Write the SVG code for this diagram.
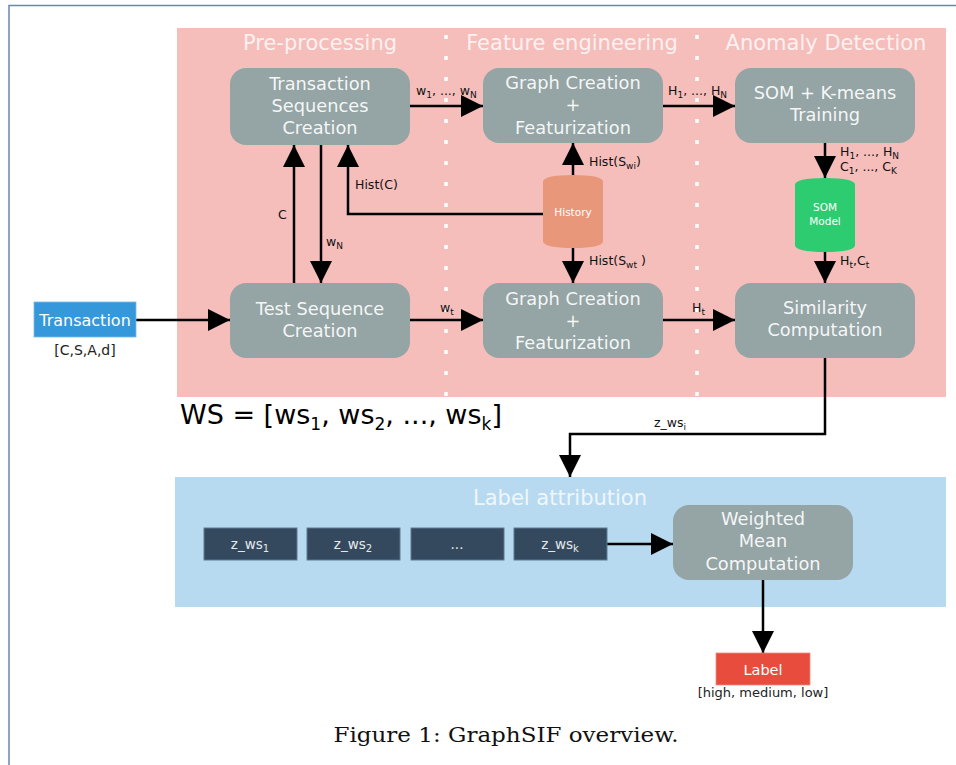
<svg xmlns="http://www.w3.org/2000/svg" width="956" height="765" viewBox="0 0 956 765">
  <style>
    .node { fill: #95a5a5; }
    .ntxt { font-family: "DejaVu Sans", sans-serif; font-size: 17.8px; fill: #ffffff; fill-opacity: 0.92; text-anchor: middle; }
    .sec { font-family: "DejaVu Sans", sans-serif; font-size: 21px; fill: #ffffff; fill-opacity: 0.8; text-anchor: middle; }
    .lbl { font-family: "DejaVu Sans", sans-serif; font-size: 12.5px; fill: #111111; }
    .sub { font-size: 9px; }
    .wire { fill: none; stroke: #000000; stroke-width: 2.5; }
    .dots { stroke: #ffffff; stroke-width: 3.5; stroke-dasharray: 4 17; }
    .zbox { fill: #34495e; stroke: #5d7a94; stroke-width: 1; }
    .ztxt { font-family: "DejaVu Sans", sans-serif; font-size: 13.5px; fill: #e6e9ec; text-anchor: middle; }
    .cyl { font-family: "DejaVu Sans", sans-serif; font-size: 10.5px; fill: #ffffff; text-anchor: middle; }
  </style>
  <defs>
    <marker id="arrow" markerUnits="userSpaceOnUse" markerWidth="22" markerHeight="22" viewBox="0 0 20 20" refX="20" refY="10" orient="auto">
      <path d="M0,0 L20,10 L0,20 Z" fill="#000000"/>
    </marker>
  </defs>

  <rect width="956" height="765" fill="#ffffff"/>
  <!-- page frame -->
  <path d="M9,765 V5.5 H956" fill="none" stroke="#6a86aa" stroke-width="1.5"/>

  <!-- pipeline background -->
  <rect x="177" y="28" width="769" height="369" fill="#f5bebb"/>
  <line class="dots" x1="446" y1="35" x2="446" y2="397"/>
  <line class="dots" x1="697" y1="35" x2="697" y2="397"/>
  <text class="sec" x="320" y="50">Pre-processing</text>
  <text class="sec" x="572" y="50">Feature engineering</text>
  <text class="sec" x="826" y="50">Anomaly Detection</text>

  <!-- label attribution background -->
  <rect x="175" y="477" width="771" height="130" fill="#b8daf0"/>
  <text class="sec" x="560" y="505" font-size="21.5">Label attribution</text>

  <!-- connectors -->
  <g id="connectors">
    <line class="wire" x1="410" y1="106" x2="483" y2="106" marker-end="url(#arrow)"/>
    <line class="wire" x1="663" y1="106" x2="735" y2="106" marker-end="url(#arrow)"/>
    <line class="wire" x1="294" y1="283" x2="294" y2="145" marker-end="url(#arrow)"/>
    <line class="wire" x1="321" y1="145" x2="321" y2="283" marker-end="url(#arrow)"/>
    <polyline class="wire" points="543,214 348,214 348,145" marker-end="url(#arrow)"/>
    <line class="wire" x1="573" y1="177" x2="573" y2="143" marker-end="url(#arrow)"/>
    <line class="wire" x1="573" y1="247" x2="573" y2="283" marker-end="url(#arrow)"/>
    <line class="wire" x1="825" y1="143" x2="825" y2="178" marker-end="url(#arrow)"/>
    <line class="wire" x1="825" y1="251" x2="825" y2="283" marker-end="url(#arrow)"/>
    <line class="wire" x1="136" y1="320" x2="230" y2="320" marker-end="url(#arrow)"/>
    <line class="wire" x1="410" y1="320" x2="483" y2="320" marker-end="url(#arrow)"/>
    <line class="wire" x1="663" y1="320" x2="735" y2="320" marker-end="url(#arrow)"/>
    <polyline class="wire" points="825,358 825,434 570,434 570,477" marker-end="url(#arrow)"/>
    <line class="wire" x1="607" y1="544" x2="673" y2="544" marker-end="url(#arrow)"/>
    <line class="wire" x1="763" y1="580" x2="763" y2="653" marker-end="url(#arrow)"/>

    <text class="lbl" x="416" y="95">w<tspan class="sub" dy="3">1</tspan><tspan dy="-3">, ..., w</tspan><tspan class="sub" dy="3">N</tspan></text>
    <text class="lbl" x="668" y="95">H<tspan class="sub" dy="3">1</tspan><tspan dy="-3">, ..., H</tspan><tspan class="sub" dy="3">N</tspan></text>
    <text class="lbl" x="278" y="219">C</text>
    <text class="lbl" x="326" y="246">w<tspan class="sub" dy="3">N</tspan></text>
    <text class="lbl" x="355" y="189">Hist(C)</text>
    <text class="lbl" x="589" y="166">Hist(S<tspan class="sub" dy="3">wi</tspan><tspan dy="-3">)</tspan></text>
    <text class="lbl" x="589" y="265">Hist(S<tspan class="sub" dy="3">wt</tspan><tspan dy="-3"> )</tspan></text>
    <text class="lbl" x="840" y="156">H<tspan class="sub" dy="3">1</tspan><tspan dy="-3">, ..., H</tspan><tspan class="sub" dy="3">N</tspan></text>
    <text class="lbl" x="840" y="171">C<tspan class="sub" dy="3">1</tspan><tspan dy="-3">, ..., C</tspan><tspan class="sub" dy="3">K</tspan></text>
    <text class="lbl" x="840" y="265">H<tspan class="sub" dy="3">t</tspan><tspan dy="-3">,C</tspan><tspan class="sub" dy="3">t</tspan></text>
    <text class="lbl" x="440" y="312">w<tspan class="sub" dy="3">t</tspan></text>
    <text class="lbl" x="692" y="312">H<tspan class="sub" dy="3">t</tspan></text>
    <text class="lbl" x="654" y="427">z_ws<tspan class="sub" dy="3">i</tspan></text>
  </g>

  <!-- pre-processing -->
  <g id="seq-creation">
    <rect class="node" x="230" y="68" width="180" height="77" rx="16"/>
    <text class="ntxt" x="320" y="90">Transaction</text>
    <text class="ntxt" x="320" y="112">Sequences</text>
    <text class="ntxt" x="320" y="134">Creation</text>
  </g>
  <g id="test-seq">
    <rect class="node" x="230" y="283" width="180" height="75" rx="16"/>
    <text class="ntxt" x="320" y="315">Test Sequence</text>
    <text class="ntxt" x="320" y="337">Creation</text>
  </g>

  <!-- feature engineering -->
  <g id="graph-train">
    <rect class="node" x="483" y="68" width="180" height="75" rx="16"/>
    <text class="ntxt" x="573" y="89">Graph Creation</text>
    <text class="ntxt" x="573" y="111">+</text>
    <text class="ntxt" x="573" y="134">Featurization</text>
  </g>
  <g id="graph-test">
    <rect class="node" x="483" y="283" width="180" height="75" rx="16"/>
    <text class="ntxt" x="573" y="305">Graph Creation</text>
    <text class="ntxt" x="573" y="327">+</text>
    <text class="ntxt" x="573" y="349">Featurization</text>
  </g>
  <g id="history">
    <path d="M543,182 Q543,175 573,175 Q603,175 603,182 V241 Q603,248 573,248 Q543,248 543,241 Z" fill="#e8977a"/>
    <text class="cyl" x="573" y="216">History</text>
  </g>

  <!-- anomaly detection -->
  <g id="som-train">
    <rect class="node" x="735" y="68" width="180" height="75" rx="16"/>
    <text class="ntxt" x="825" y="99">SOM + K-means</text>
    <text class="ntxt" x="825" y="121">Training</text>
  </g>
  <g id="som-model">
    <path d="M795,185 Q795,178 825,178 Q855,178 855,185 V245 Q855,252 825,252 Q795,252 795,245 Z" fill="#2ecc71"/>
    <text class="cyl" x="825" y="211">SOM</text>
    <text class="cyl" x="825" y="225">Model</text>
  </g>
  <g id="similarity">
    <rect class="node" x="735" y="283" width="180" height="75" rx="16"/>
    <text class="ntxt" x="825" y="314">Similarity</text>
    <text class="ntxt" x="825" y="336">Computation</text>
  </g>

  <!-- input -->
  <g id="transaction">
    <rect x="34" y="302" width="102" height="35" fill="#3498db" stroke="#7fb8e6" stroke-width="0.8"/>
    <text x="85" y="326" font-family="DejaVu Sans, sans-serif" font-size="16" fill="#ffffff" text-anchor="middle">Transaction</text>
    <text x="85" y="355" font-family="DejaVu Sans, sans-serif" font-size="14" fill="#222222" text-anchor="middle">[C,S,A,d]</text>
  </g>

  <g id="ws-set">
    <text x="180" y="424" font-family="DejaVu Sans, sans-serif" font-size="27" fill="#000000">WS = [ws<tspan font-size="17" dy="6">1</tspan><tspan dy="-6">, ws</tspan><tspan font-size="17" dy="6">2</tspan><tspan dy="-6">, ..., ws</tspan><tspan font-size="17" dy="6">k</tspan><tspan dy="-6">]</tspan></text>
  </g>

  <!-- label attribution -->
  <g id="z-ws-1">
    <rect class="zbox" x="204" y="528" width="93" height="32"/>
    <text class="ztxt" x="250" y="549">z_ws<tspan font-size="10" dy="3">1</tspan></text>
  </g>
  <g id="z-ws-2">
    <rect class="zbox" x="307" y="528" width="93" height="32"/>
    <text class="ztxt" x="353" y="549">z_ws<tspan font-size="10" dy="3">2</tspan></text>
  </g>
  <g id="z-ws-dots">
    <rect class="zbox" x="411" y="528" width="93" height="32"/>
    <text class="ztxt" x="457" y="549">...</text>
  </g>
  <g id="z-ws-k">
    <rect class="zbox" x="514" y="528" width="93" height="32"/>
    <text class="ztxt" x="560" y="549">z_ws<tspan font-size="10" dy="3">k</tspan></text>
  </g>
  <g id="weighted-mean">
    <rect class="node" x="673" y="505" width="180" height="75" rx="16"/>
    <text class="ntxt" x="763" y="525">Weighted</text>
    <text class="ntxt" x="763" y="547">Mean</text>
    <text class="ntxt" x="763" y="570">Computation</text>
  </g>
  <g id="label">
    <rect x="716" y="653" width="94" height="32" fill="#e74c3c" stroke="#f08a80" stroke-width="0.8"/>
    <text x="763" y="675" font-family="DejaVu Sans, sans-serif" font-size="14.5" fill="#ffffff" text-anchor="middle">Label</text>
    <text x="763" y="697" font-family="DejaVu Sans, sans-serif" font-size="13" fill="#222222" text-anchor="middle">[high, medium, low]</text>
  </g>

  <text x="506" y="742" font-family="DejaVu Serif, serif" font-size="21" fill="#111111" text-anchor="middle" textLength="345" lengthAdjust="spacingAndGlyphs">Figure 1: GraphSIF overview.</text>
</svg>
